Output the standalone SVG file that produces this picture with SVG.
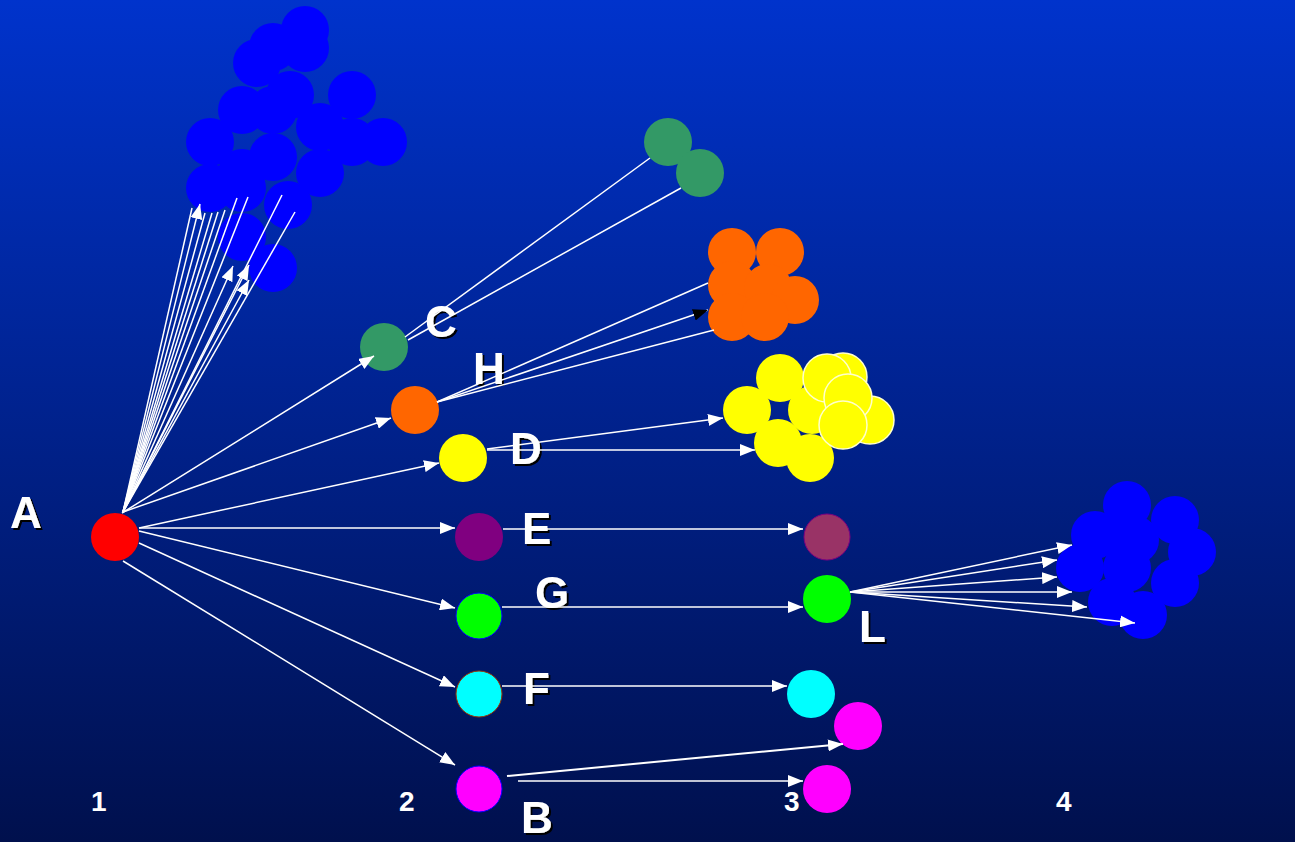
<svg xmlns="http://www.w3.org/2000/svg" width="1295" height="842" viewBox="0 0 1295 842">
<defs>
<linearGradient id="bg" x1="0" y1="0" x2="0" y2="1">
<stop offset="0" stop-color="#0033cc"/>
<stop offset="1" stop-color="#00104d"/>
</linearGradient>
<marker id="ah" markerWidth="15" markerHeight="12" refX="15" refY="6" orient="auto" markerUnits="userSpaceOnUse"><path d="M0,0 L15,6 L0,12 z" fill="#ffffff"/></marker>
<marker id="ahk" markerWidth="15" markerHeight="12" refX="15" refY="6" orient="auto" markerUnits="userSpaceOnUse"><path d="M0,0 L15,6 L0,12 z" fill="#000000"/></marker>
<filter id="sh" x="-20%" y="-20%" width="150%" height="150%"><feDropShadow dx="2" dy="2" stdDeviation="0.6" flood-color="#000" flood-opacity="1"/></filter>
<style>
.lbl{font-family:"Liberation Sans",Arial,sans-serif;font-weight:bold;font-size:44px;fill:#fff;filter:url(#sh)}
.num{font-family:"Liberation Sans",Arial,sans-serif;font-weight:bold;font-size:28px;fill:#fff}
.bl{fill:#0000ff}
.or{fill:#ff6600}
.ye{fill:#ffff00}
.yw{fill:#ffff00;stroke:#ffffcc;stroke-width:1.5}
.gr{fill:#339966}
.cn line{stroke:#fff;stroke-width:1.5;fill:none}
.a{marker-end:url(#ah)}
</style>
</defs>
<rect width="1295" height="842" fill="url(#bg)"/>

<g id="cluster-top">
<circle class="bl" cx="305" cy="30" r="24"/>
<circle class="bl" cx="305" cy="48" r="24"/>
<circle class="bl" cx="273" cy="47" r="24"/>
<circle class="bl" cx="257" cy="63" r="24"/>
<circle class="bl" cx="290" cy="95" r="24"/>
<circle class="bl" cx="352" cy="95" r="24"/>
<circle class="bl" cx="242" cy="110" r="24"/>
<circle class="bl" cx="273" cy="110" r="24"/>
<circle class="bl" cx="320" cy="127" r="24"/>
<circle class="bl" cx="210" cy="142" r="24"/>
<circle class="bl" cx="352" cy="142" r="24"/>
<circle class="bl" cx="383" cy="142" r="24"/>
<circle class="bl" cx="273" cy="157" r="24"/>
<circle class="bl" cx="320" cy="173" r="24"/>
<circle class="bl" cx="242" cy="173" r="24"/>
<circle class="bl" cx="210" cy="188" r="24"/>
<circle class="bl" cx="242" cy="188" r="24"/>
<circle class="bl" cx="288" cy="205" r="24"/>
<circle class="bl" cx="242" cy="237" r="24"/>
<circle class="bl" cx="273" cy="268" r="24"/>
</g>

<g id="node-C3">
<circle class="gr" cx="668" cy="142" r="24"/>
<circle class="gr" cx="700" cy="173" r="24"/>
</g>

<g id="cluster-H3">
<circle class="or" cx="732" cy="252" r="24"/>
<circle class="or" cx="780" cy="252" r="24"/>
<circle class="or" cx="732" cy="285" r="24"/>
<circle class="or" cx="768" cy="288" r="24"/>
<circle class="or" cx="795" cy="300" r="24"/>
<circle class="or" cx="732" cy="317" r="24"/>
<circle class="or" cx="765" cy="317" r="24"/>
</g>

<g id="cluster-D3">
<circle class="ye" cx="780" cy="378" r="24"/>
<circle class="ye" cx="747" cy="410" r="24"/>
<circle class="ye" cx="778" cy="443" r="24"/>
<circle class="ye" cx="810" cy="458" r="24"/>
<circle class="ye" cx="812" cy="410" r="24"/>
<circle class="yw" cx="843" cy="377" r="24"/>
<circle class="yw" cx="827" cy="378" r="24"/>
<circle class="yw" cx="870" cy="420" r="24"/>
<circle class="yw" cx="848" cy="398" r="24"/>
<circle class="yw" cx="843" cy="425" r="24"/>
</g>

<g id="cluster-L4">
<circle class="bl" cx="1127" cy="505" r="24"/>
<circle class="bl" cx="1175" cy="520" r="24"/>
<circle class="bl" cx="1192" cy="552" r="24"/>
<circle class="bl" cx="1175" cy="583" r="24"/>
<circle class="bl" cx="1143" cy="615" r="24"/>
<circle class="bl" cx="1112" cy="602" r="24"/>
<circle class="bl" cx="1080" cy="568" r="24"/>
<circle class="bl" cx="1095" cy="535" r="24"/>
<circle class="bl" cx="1127" cy="568" r="24"/>
<circle class="bl" cx="1135" cy="540" r="24"/>
</g>

<g id="node-A"><circle cx="115" cy="537" r="24" fill="#ff0000"/><text class="lbl" x="10" y="528">A</text></g>
<g id="node-C"><circle cx="384" cy="347" r="24" fill="#339966"/><text class="lbl" x="425" y="337">C</text></g>
<g id="node-H"><circle cx="415" cy="410" r="24" fill="#ff6600"/><text class="lbl" x="473" y="384">H</text></g>
<g id="node-D"><circle cx="463" cy="458" r="24" fill="#ffff00"/><text class="lbl" x="510" y="464">D</text></g>
<g id="node-E"><circle cx="479" cy="537" r="24" fill="#800080"/><text class="lbl" x="522" y="544">E</text></g>
<g id="node-G"><circle cx="479" cy="616" r="23" fill="#00ff00" stroke="#0000ff" stroke-width="1"/><text class="lbl" x="535" y="608">G</text></g>
<g id="node-F"><circle cx="479" cy="694" r="23" fill="#00ffff" stroke="#993300" stroke-width="1"/><text class="lbl" x="523" y="704">F</text></g>
<g id="node-B"><circle cx="479" cy="789" r="23" fill="#ff00ff" stroke="#0000ff" stroke-width="1"/><text class="lbl" x="521" y="833">B</text></g>
<g id="node-E3"><circle cx="827" cy="537" r="23" fill="#993366" stroke="#800080" stroke-width="1"/></g>
<g id="node-L"><circle cx="827" cy="599" r="24" fill="#00ff00"/><text class="lbl" x="859" y="642">L</text></g>
<g id="node-F3"><circle cx="811" cy="694" r="24" fill="#00ffff"/></g>
<g id="node-B3a"><circle cx="858" cy="726" r="24" fill="#ff00ff"/></g>
<g id="node-B3b"><circle cx="827" cy="789" r="24" fill="#ff00ff"/></g>

<g id="connectors" class="cn">
<line class="a" x1="123" y1="512" x2="200" y2="204"/>
<line x1="123" y1="512" x2="192" y2="208"/>
<line x1="123" y1="512" x2="205" y2="213"/>
<line x1="123" y1="512" x2="212" y2="213"/>
<line x1="123" y1="512" x2="218" y2="212"/>
<line x1="123" y1="512" x2="225" y2="210"/>
<line x1="123" y1="512" x2="237" y2="198"/>
<line x1="123" y1="512" x2="248" y2="197"/>
<line x1="123" y1="512" x2="282" y2="195"/>
<line x1="123" y1="512" x2="295" y2="212"/>
<line class="a" x1="123" y1="512" x2="233" y2="266"/>
<line class="a" x1="123" y1="512" x2="249" y2="265"/>
<line class="a" x1="123" y1="512" x2="249" y2="280"/>
<line class="a" x1="122" y1="513" x2="374" y2="356"/>
<line class="a" x1="123" y1="512" x2="391" y2="418"/>
<line class="a" x1="139" y1="528" x2="439" y2="463"/>
<line class="a" x1="139" y1="528" x2="455" y2="528"/>
<line class="a" x1="139" y1="531" x2="455" y2="608"/>
<line class="a" x1="139" y1="543" x2="455" y2="687"/>
<line class="a" x1="123" y1="561" x2="455" y2="765"/>
<line x1="405" y1="337" x2="650" y2="158"/>
<line x1="408" y1="340" x2="681" y2="188"/>
<line x1="437" y1="402" x2="708" y2="283"/>
<line x1="437" y1="402" x2="708" y2="310" style="marker-end:url(#ahk)"/>
<line x1="437" y1="402" x2="714" y2="330"/>
<line class="a" x1="487" y1="449" x2="723" y2="418"/>
<line class="a" x1="487" y1="450" x2="755" y2="450"/>
<line class="a" x1="503" y1="529" x2="803" y2="529"/>
<line class="a" x1="502" y1="607" x2="803" y2="607"/>
<line class="a" x1="502" y1="686" x2="787" y2="686"/>
<line class="a" x1="507" y1="776" x2="843" y2="744" style="stroke-width:2"/>
<line class="a" x1="518" y1="781" x2="803" y2="781"/>
<line class="a" x1="850" y1="592" x2="1072" y2="545"/>
<line class="a" x1="850" y1="592" x2="1057" y2="560"/>
<line class="a" x1="850" y1="592" x2="1057" y2="577"/>
<line class="a" x1="850" y1="592" x2="1072" y2="592"/>
<line class="a" x1="850" y1="592" x2="1087" y2="607"/>
<line class="a" x1="850" y1="592" x2="1135" y2="623"/>
</g>

<g id="axis">
<text class="num" x="91" y="811">1</text>
<text class="num" x="399" y="811">2</text>
<text class="num" x="784" y="811">3</text>
<text class="num" x="1056" y="811">4</text>
</g>
</svg>
